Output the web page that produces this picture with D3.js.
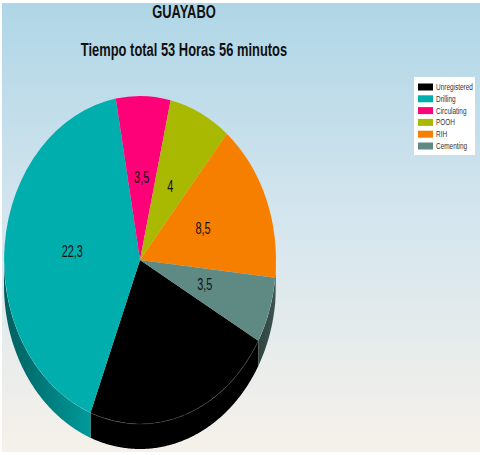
<!DOCTYPE html>
<html lang="es">
<head>
<meta charset="UTF-8" />
<title>GUAYABO</title>
<script src="https://d3js.org/d3.v7.min.js"></script>
<style>
  html, body { margin: 0; padding: 0; background: #fff; }
  svg { display: block; }
  text { font-family: 'Liberation Sans', sans-serif; fill: #111; }
  .title { font-weight: bold; font-size: 19px; text-anchor: middle; }
  .value { font-size: 16px; text-anchor: middle; }
  .legend text { font-size: 9.5px; fill: #333; }
</style>
</head>
<body>
<div id="chart"></div>
<script>
const categories = ['Unregistered', 'Drilling', 'Circulating', 'POOH', 'RIH', 'Cementing'];
const hours = [12.3, 22.3, 3.5, 4, 8.5, 3.5];
const shownLabels = ['', '22,3', '3,5', '4', '8,5', '3,5'];
const topColors = ['#000000', '#00aeae', '#fe0078', '#a9b800', '#f77f00', '#5f8a84'];
const wallLeft = ['#000000', '#005f5f', '#a00050', '#6a7400', '#b05a00', '#2f4340'];
const wallRight = ['#000000', '#009a9a', '#a00050', '#6a7400', '#b05a00', '#3d5450'];

const width = 480, height = 455;
const cx = 140, cy = 260, rx = 136, ry = 164, depth = 25;
// the original uses a condensed face, no narrow font here so squeeze the glyphs
const titleSqueeze = 0.68, valueSqueeze = 0.68, legendSqueeze = 0.68;

const svg = d3.select('#chart').append('svg')
  .attr('width', width).attr('height', height);
const defs = svg.append('defs');

// page background
const bg = defs.append('linearGradient').attr('id', 'bg')
  .attr('x1', 0).attr('y1', 0).attr('x2', 0).attr('y2', 1);
bg.append('stop').attr('offset', '0%').attr('stop-color', '#afd6e6');
bg.append('stop').attr('offset', '50%').attr('stop-color', '#d6e6ee');
bg.append('stop').attr('offset', '100%').attr('stop-color', '#f6f1ea');
svg.append('rect').attr('x', 2).attr('y', 3).attr('width', 478).attr('height', 449)
  .attr('fill', 'url(#bg)');

svg.append('text').attr('class', 'title')
  .attr('transform', `translate(184,18) scale(${titleSqueeze},1)`).text('GUAYABO');
svg.append('text').attr('class', 'title')
  .attr('transform', `translate(184,56) scale(${titleSqueeze},1)`).text('Tiempo total 53 Horas 56 minutos');

const pie = d3.pie().sort(null).value(d => d)
  .startAngle(119.5 * Math.PI / 180)
  .endAngle((119.5 + 360) * Math.PI / 180);
const slices = pie(hours);

// unit circle scaled to an ellipse, that gives the tilted look
const xScale = d3.scaleLinear().domain([-1, 1]).range([cx - rx, cx + rx]);
const yScale = d3.scaleLinear().domain([-1, 1]).range([cy - ry, cy + ry]);

// side wall, only the lower half of the rim can be seen
const wall = d3.area()
  .x(a => xScale(Math.sin(a)))
  .y0(a => yScale(-Math.cos(a)))
  .y1(a => yScale(-Math.cos(a)) + depth);

slices.forEach((s, i) => {
  // angles run past a full turn, so check the lower half on both laps
  [0, 2 * Math.PI].forEach((lap, j) => {
    const from = Math.max(s.startAngle, Math.PI / 2 + lap);
    const to = Math.min(s.endAngle, Math.PI * 3 / 2 + lap);
    if (from >= to) return;
    const id = `wall${i}_${j}`;
    const grad = defs.append('linearGradient').attr('id', id)
      .attr('gradientUnits', 'userSpaceOnUse')
      .attr('x1', xScale(Math.sin(to))).attr('x2', xScale(Math.sin(from)))
      .attr('y1', 0).attr('y2', 0);
    grad.append('stop').attr('offset', '0%').attr('stop-color', wallLeft[i]);
    grad.append('stop').attr('offset', '100%').attr('stop-color', wallRight[i]);
    svg.append('path')
      .attr('d', wall(d3.range(from, to, 0.01).concat([to])))
      .attr('fill', `url(#${id})`);
  });
});

// top face
const arc = d3.arc().innerRadius(0).outerRadius(1);
const face = svg.append('g').attr('transform', `translate(${cx},${cy}) scale(${rx},${ry})`);
face.selectAll('path').data(slices).enter().append('path')
  .attr('d', arc)
  .attr('fill', (d, i) => topColors[i]);

// faint rim line on the black slice
svg.append('path')
  .attr('d', d3.line().x(a => xScale(Math.sin(a))).y(a => yScale(-Math.cos(a)))(
    d3.range(slices[0].startAngle, slices[0].endAngle, 0.01)))
  .attr('fill', 'none').attr('stroke', '#333').attr('stroke-width', 0.5);

// value labels at the arc centroid
svg.selectAll('.value').data(slices).enter().append('text')
  .attr('class', 'value')
  .attr('transform', d => {
    const [x, y] = arc.centroid(d);
    return `translate(${xScale(x)},${yScale(y) + 5}) scale(${valueSqueeze},1)`;
  })
  .text((d, i) => shownLabels[i]);

// legend
const legend = svg.append('g').attr('class', 'legend');
legend.append('rect').attr('x', 414).attr('y', 77).attr('width', 61).attr('height', 78).attr('fill', '#fff');
const legendY = d3.scalePoint().domain(categories).range([87, 146]);
legend.selectAll('.swatch').data(categories).enter().append('rect')
  .attr('class', 'swatch')
  .attr('x', 418).attr('y', d => legendY(d) - 3.5)
  .attr('width', 15).attr('height', 7)
  .attr('fill', (d, i) => topColors[i]);
legend.selectAll('text').data(categories).enter().append('text')
  .attr('transform', d => `translate(436,${legendY(d) + 3}) scale(${legendSqueeze},1)`)
  .text(d => d);
</script>
</body>
</html>
